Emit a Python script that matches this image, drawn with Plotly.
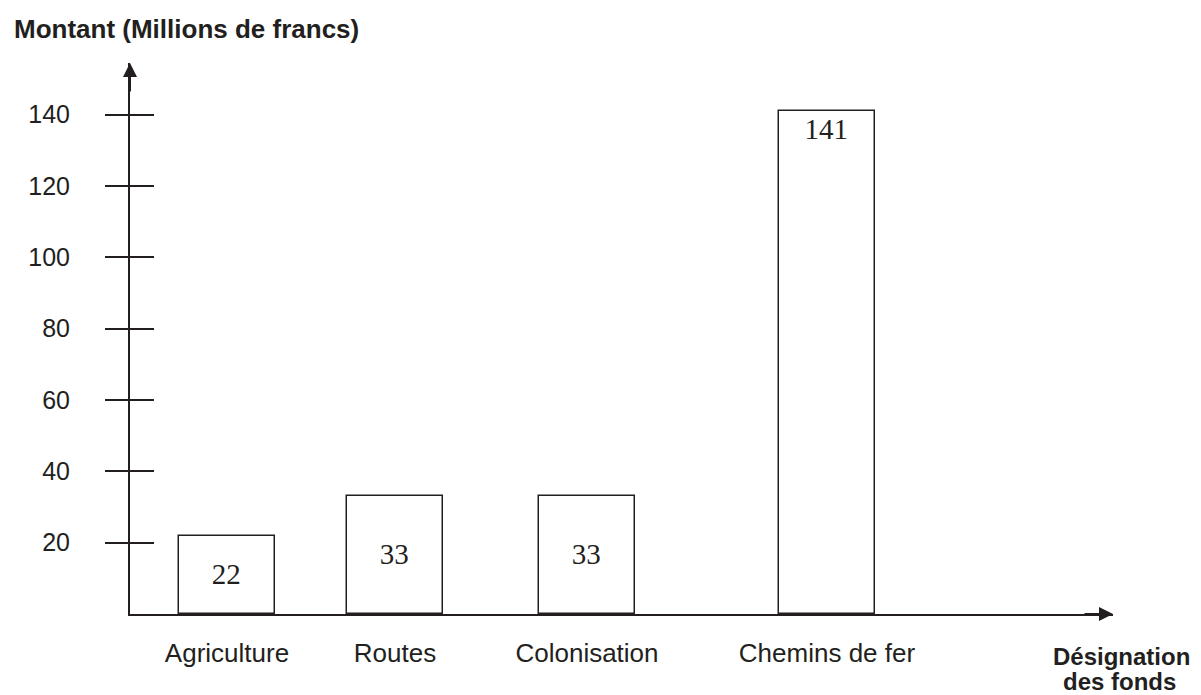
import plotly.graph_objects as go

# ---- data ----
categories = ["Agriculture", "Routes", "Colonisation", "Chemins de fer"]
amounts = [22, 33, 33, 141]
y_ticks = [20, 40, 60, 80, 100, 120, 140]
y_tick_labels = ["20", "40", "60", "80", "100", "120", "140"]

# ---- layout helpers (positions on a plain numeric x axis) ----
bar_centres = [97, 265, 457, 697]
bar_width = 96
INK = "#231f20"

fig = go.Figure()

short = [i for i, v in enumerate(amounts) if v < 100]
tall = [i for i, v in enumerate(amounts) if v >= 100]

for idx, anchor in ((short, "middle"), (tall, "end")):
    fig.add_trace(go.Bar(
        x=[bar_centres[i] for i in idx],
        y=[amounts[i] for i in idx],
        width=bar_width,
        text=[str(amounts[i]) for i in idx],
        textposition="inside",
        insidetextanchor=anchor,
        constraintext="none",
        textfont=dict(family="Liberation Serif", size=29, color=INK),
        marker=dict(color="white", line=dict(color=INK, width=1.5)),
        cliponaxis=False,
        showlegend=False,
        hoverinfo="skip",
    ))

# invisible trace to carry the inside tick marks axis
fig.add_trace(go.Scatter(x=[bar_centres[0]], y=[0], yaxis="y2", mode="markers",
                         marker=dict(opacity=0), showlegend=False, hoverinfo="skip"))

fig.update_layout(
    width=1193, height=687,
    margin=dict(l=122, r=88, t=55, b=81),
    paper_bgcolor="white", plot_bgcolor="white",
    font=dict(family="Liberation Sans", color=INK),
    xaxis=dict(
        range=[0, 983], showgrid=False, zeroline=False,
        showline=True, linecolor=INK, linewidth=2,
        tickvals=bar_centres, ticktext=categories, ticks="",
        tickfont=dict(size=26, color=INK), ticklabelstandoff=15,
    ),
    yaxis=dict(
        range=[0, 154.5], showgrid=False, zeroline=False,
        showline=True, linecolor=INK, linewidth=2,
        tickvals=y_ticks, ticktext=y_tick_labels,
        ticks="outside", ticklen=23, tickwidth=1.5, tickcolor=INK,
        tickfont=dict(size=25, color=INK), ticklabelstandoff=30,
    ),
    yaxis2=dict(
        overlaying="y", matches="y", side="left", anchor="x",
        showgrid=False, zeroline=False, showline=False,
        tickvals=y_ticks, showticklabels=False,
        ticks="inside", ticklen=24, tickwidth=1.5, tickcolor=INK,
    ),
    bargap=0,
)

annotations = [
    dict(text="<b>Montant (Millions de francs)</b>", xref="paper", yref="paper",
         x=0, xshift=-118, y=1, yshift=34, xanchor="left", yanchor="middle",
         showarrow=False, font=dict(size=26, color=INK)),
    dict(text="<b>Désignation</b>", xref="paper", yref="paper",
         x=1, xshift=8, y=0, yshift=-42, xanchor="center", yanchor="middle",
         showarrow=False, font=dict(size=24, color=INK)),
    dict(text="<b>des fonds</b>", xref="paper", yref="paper",
         x=1, xshift=6, y=0, yshift=-67, xanchor="center", yanchor="middle",
         showarrow=False, font=dict(size=24, color=INK)),
    # axis arrowheads
    dict(x=0, y=1, xref="paper", yref="paper", ax=0, ay=30, showarrow=True,
         arrowhead=2, arrowsize=1.4, arrowwidth=2, arrowcolor=INK, text=""),
    dict(x=1, y=0, xref="paper", yref="paper", ax=-30, ay=0, showarrow=True,
         arrowhead=2, arrowsize=1.4, arrowwidth=2, arrowcolor=INK, text=""),
]
fig.update_layout(annotations=annotations)

fig.write_html("out.html")
